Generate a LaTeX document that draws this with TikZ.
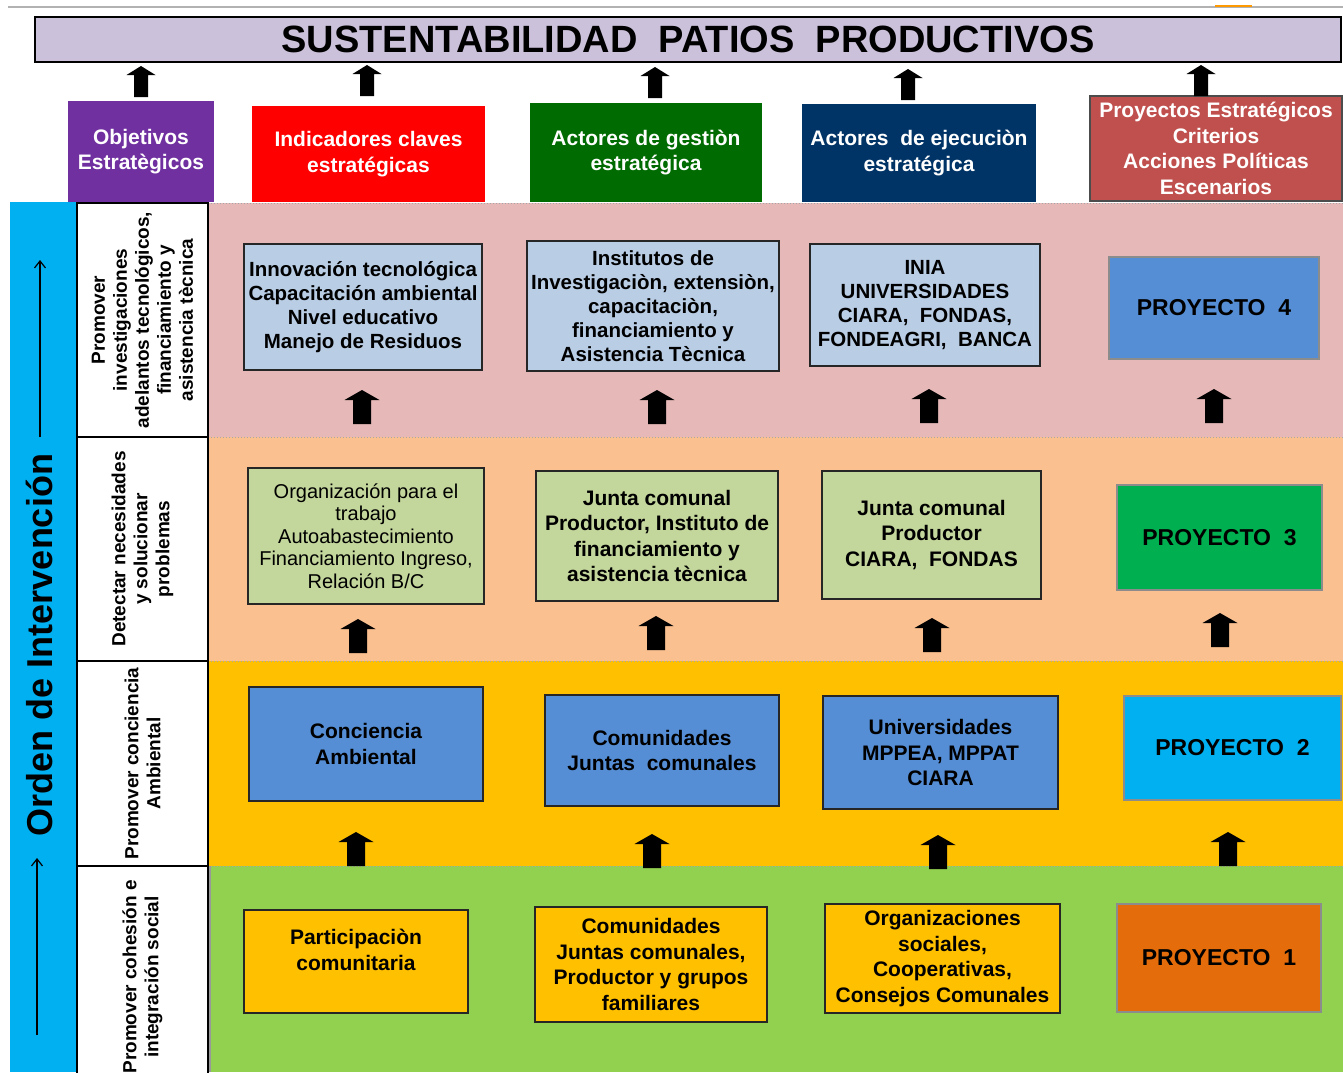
\documentclass[tikz,border=0pt]{standalone}
\usepackage{fontspec}
\setmainfont{Liberation Sans}
\usetikzlibrary{arrows.meta}
\definecolor{titlec}{HTML}{CCC1DA}
\definecolor{objc}{HTML}{7030A0}
\definecolor{indc}{HTML}{FF0000}
\definecolor{gesc}{HTML}{006B00}
\definecolor{ejec}{HTML}{003366}
\definecolor{proc}{HTML}{C0504D}
\definecolor{bandc}{HTML}{00B0F0}
\definecolor{pinkc}{HTML}{E6B9B8}
\definecolor{peachc}{HTML}{FAC090}
\definecolor{goldc}{HTML}{FFC000}
\definecolor{greenc}{HTML}{92D050}
\definecolor{lbluec}{HTML}{B9CDE5}
\definecolor{lgreenc}{HTML}{C3D69B}
\definecolor{mbluec}{HTML}{558ED5}
\definecolor{pthreec}{HTML}{00B050}
\definecolor{ponec}{HTML}{E46C0A}
\begin{document}
\begin{tikzpicture}[x=1pt,y=-1pt,
  txt/.style={font=\fontsize{21}{25.5}\selectfont\bfseries, align=center},
  hdr/.style={txt, text=white, inner sep=0pt},
  box/.style={draw=black!85, line width=1.4pt, inner sep=0pt, txt},
  smallbox/.style={box, font=\fontsize{20.5}{24}\selectfont\bfseries},
  proj/.style={draw=black!45, line width=1.2pt, inner sep=0pt, font=\fontsize{23}{27}\selectfont\bfseries},
  lblcell/.style={draw=black, line width=1.4pt, fill=white, rotate=90, inner sep=0pt, align=center, font=\fontsize{19}{22}\selectfont\bfseries},
  rowsep/.style={draw=black!35, line width=1pt, dotted},
  thinarrow/.style={line width=1.2pt, -{Straight Barb[length=7pt,width=11pt]}},
  toparrow/.pic={\fill[black] (-7,0) -- (-7,-22) -- (-14.5,-22) -- (0,-31) -- (14.5,-22) -- (7,-22) -- (7,0) -- cycle;},
  rowarrow/.pic={\fill[black] (-9,0) -- (-9,-24) -- (-17.5,-24) -- (0,-34) -- (17.5,-24) -- (9,-24) -- (9,0) -- cycle;}
]
\useasboundingbox (0,0) rectangle (1343,1072);
\fill[white] (0,0) rectangle (1343,1072);
\draw[black!30, line width=1.2pt] (8,7) -- (1343,7);
\draw[orange!80!yellow, line width=1.2pt] (1215,6) -- (1252,6);

% title
\node[draw=black, line width=1.5pt, fill=titlec, minimum width=1306pt, minimum height=45pt, inner sep=0pt,
      font=\fontsize{38}{40}\selectfont\bfseries] (title) at (688,39.5) {SUSTENTABILIDAD~~PATIOS~~PRODUCTIVOS};

% header boxes
\node[hdr, fill=objc, minimum width=146pt, minimum height=101pt] (obj) at (141,151.5) {Objetivos\\Estratègicos};
\node[hdr, fill=indc, minimum width=233pt, minimum height=96pt] (ind) at (368.5,154) {Indicadores claves\\estratégicas};
\node[hdr, fill=gesc, minimum width=232pt, minimum height=99pt] (ges) at (646,152.5) {Actores de gestiòn\\estratégica};
\node[hdr, fill=ejec, minimum width=234pt, minimum height=98pt] (eje) at (919,153) {Actores~ de ejecuciòn\\estratégica};
\node[hdr, fill=proc, draw=black!70, line width=1.2pt, minimum width=252pt, minimum height=105pt] (pro) at (1216,148.5) {Proyectos Estratégicos\\Criterios\\Acciones Políticas\\Escenarios};

\pic at (141,97) {toparrow};
\pic at (367,96) {toparrow};
\pic at (655,98) {toparrow};
\pic at (908,100) {toparrow};
\pic at (1201,96) {toparrow};

% row backgrounds
\fill[pinkc] (208,203) rectangle (1343,437);
\fill[peachc] (208,437) rectangle (1343,661);
\fill[goldc] (208,661) rectangle (1343,866);
\fill[greenc] (208,866) rectangle (1343,1072);
\draw[rowsep] (208,203) -- (1343,203);
\draw[rowsep] (208,437) -- (1343,437);
\draw[rowsep] (208,661) -- (1343,661);
\draw[rowsep] (208,866) -- (1343,866);
\draw[black!40, line width=1.2pt] (210,866) -- (210,1072);

% left band
\fill[bandc] (10,202) rectangle (77,1072);
\node[rotate=90, font=\fontsize{36}{40}\selectfont\bfseries] (orden) at (39,645) {Orden de Intervención};
\draw[thinarrow] (40,437) -- (40,260);
\draw[thinarrow] (37,1035) -- (37,858);

% row labels
\node[lblcell, minimum width=234pt, minimum height=131pt] (l4) at (142.5,320) {Promover\\investigaciones\\adelantos tecnológicos,\\financiamiento y\\asistencia tècnica};
\node[lblcell, minimum width=224pt, minimum height=131pt] (l3) at (142.5,549) {Detectar necesidades\\y solucionar\\problemas};
\node[lblcell, minimum width=205pt, minimum height=131pt] (l2) at (142.5,763.5) {Promover conciencia\\Ambiental};
\node[lblcell, minimum width=222pt, minimum height=131pt] (l1) at (142.5,977) {Promover cohesión e\\integración social};

% row 4
\node[smallbox, fill=lbluec, minimum width=238pt, minimum height=126pt] (a4) at (363,307) {Innovación tecnológica\\Capacitación ambiental\\Nivel educativo\\Manejo de Residuos};
\node[smallbox, fill=lbluec, minimum width=252pt, minimum height=130pt] (b4) at (653,306) {Institutos de\\Investigaciòn, extensiòn,\\capacitaciòn,\\financiamiento y\\Asistencia Tècnica};
\node[smallbox, fill=lbluec, minimum width=230pt, minimum height=122pt] (c4) at (925,305) {INIA\\UNIVERSIDADES\\CIARA,~ FONDAS,\\FONDEAGRI,~ BANCA};
\node[proj, fill=mbluec, minimum width=210pt, minimum height=102pt] (p4) at (1214,308) {PROYECTO~~4};
\pic at (362,424) {rowarrow};
\pic at (657,424) {rowarrow};
\pic at (929,423) {rowarrow};
\pic at (1214,423) {rowarrow};

% row 3
\node[box, fill=lgreenc, minimum width=236pt, minimum height=136pt, font=\fontsize{20}{22.5}\selectfont] (a3) at (366,536) {Organización para el\\trabajo\\Autoabastecimiento\\Financiamiento Ingreso,\\Relación B/C};
\node[box, fill=lgreenc, minimum width=242pt, minimum height=130pt] (b3) at (657,536) {Junta comunal\\Productor, Instituto de\\financiamiento y\\asistencia tècnica};
\node[box, fill=lgreenc, minimum width=219pt, minimum height=128pt] (c3) at (931.5,535) {Junta comunal\\Productor\\CIARA,~ FONDAS};
\node[proj, fill=pthreec, minimum width=205pt, minimum height=105pt] (p3) at (1219.5,537.5) {PROYECTO~~3};
\pic at (358,653) {rowarrow};
\pic at (656,650) {rowarrow};
\pic at (932,652) {rowarrow};
\pic at (1220,647) {rowarrow};

% row 2
\node[box, fill=mbluec, minimum width=234pt, minimum height=114pt] (a2) at (366,744) {Conciencia\\Ambiental};
\node[box, fill=mbluec, minimum width=234pt, minimum height=111pt] (b2) at (662,750.5) {Comunidades\\Juntas~ comunales};
\node[box, fill=mbluec, minimum width=235pt, minimum height=113pt] (c2) at (940.5,752.5) {Universidades\\MPPEA, MPPAT\\CIARA};
\node[proj, fill=bandc, minimum width=217pt, minimum height=104pt] (p2) at (1232.5,748) {PROYECTO~~2};
\pic at (356,866) {rowarrow};
\pic at (652,868) {rowarrow};
\pic at (938,869) {rowarrow};
\pic at (1228,866) {rowarrow};

% row 1
\node[box, fill=goldc, minimum width=224pt, minimum height=103pt] (a1) at (356,961.5) {\raisebox{4pt}[0pt][0pt]{\begin{tabular}{@{}c@{}}Participaciòn\\comunitaria\end{tabular}}};
\node[box, fill=goldc, minimum width=232pt, minimum height=115pt] (b1) at (651,964.5) {Comunidades\\Juntas comunales,\\Productor y grupos\\familiares};
\node[box, fill=goldc, minimum width=235pt, minimum height=109pt] (c1) at (942.5,958.5) {Organizaciones\\sociales,\\Cooperativas,\\Consejos Comunales};
\node[proj, fill=ponec, minimum width=204pt, minimum height=108pt] (p1) at (1219,958) {PROYECTO~~1};
\end{tikzpicture}
\end{document}
